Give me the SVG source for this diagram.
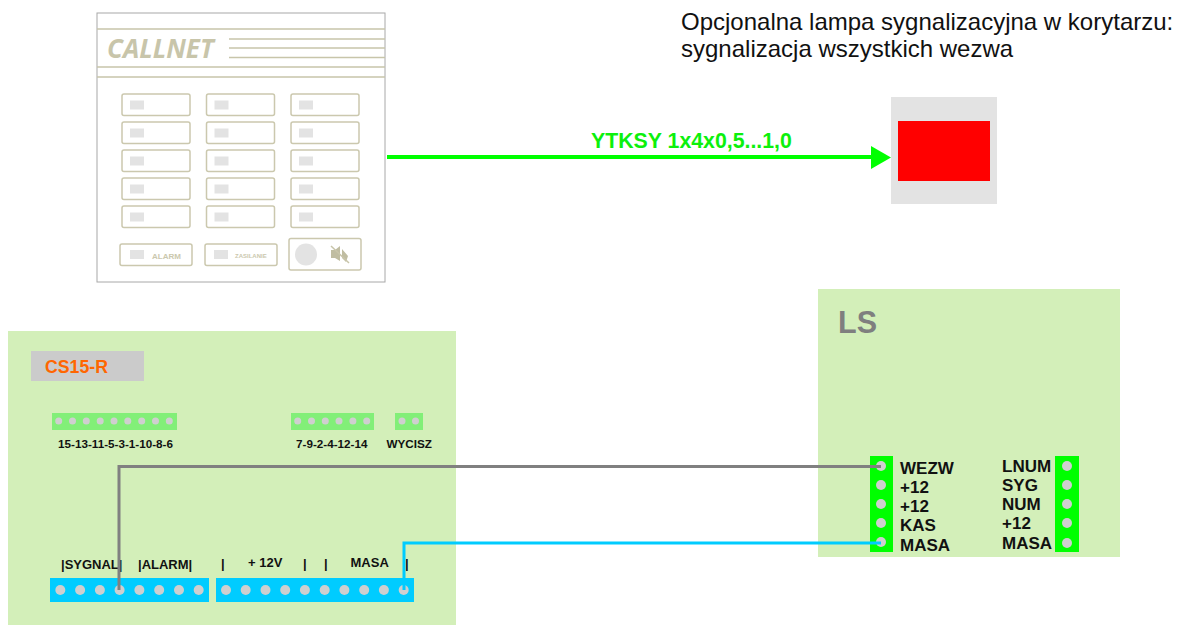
<svg xmlns="http://www.w3.org/2000/svg" width="1184" height="625" viewBox="0 0 1184 625">
<defs>
<style>
text{font-family:"Liberation Sans",Arial,sans-serif}
.b{font-weight:bold;fill:#111}
.s{font-size:11.700px}
.t{font-size:13px}
.m{font-size:17px}
.bn{fill:#fff;stroke:#cbc8ae;stroke-width:1.5}
.led{fill:#e3e3e3}
.ln{stroke:#c8c5aa;stroke-width:1.5;fill:none}
.d{fill:#cfcfcf}
.gs{fill:#82ef78}
.cs{fill:#00ccff}
.ts{fill:#00ff00}
.w{fill:none;stroke-width:3}
</style>
<symbol id="btn" overflow="visible"><rect class="bn" x="0" y="0" width="68" height="21.500" rx="2"/><rect class="led" x="8" y="6.500" width="14" height="9"/></symbol>
</defs>
<rect width="1184" height="625" fill="#fff"/>
<g id="callnet-panel">
<rect x="97" y="13" width="288" height="269" fill="#fff" stroke="#a8a8a8" stroke-width="1"/>
<path class="ln" d="M97 29H385M97 67H385M97 77H385M229 39H385M229 48H385M229 57.500H385"/>
<text x="107" y="57.500" font-size="26" font-weight="bold" font-style="italic" fill="#c8c5aa" style="font-family:'Open Sans','Liberation Sans',sans-serif">CALLNET</text>
<use href="#btn" x="122" y="94"/><use href="#btn" x="206.500" y="94"/><use href="#btn" x="291" y="94"/>
<use href="#btn" x="122" y="122"/><use href="#btn" x="206.500" y="122"/><use href="#btn" x="291" y="122"/>
<use href="#btn" x="122" y="150"/><use href="#btn" x="206.500" y="150"/><use href="#btn" x="291" y="150"/>
<use href="#btn" x="122" y="178"/><use href="#btn" x="206.500" y="178"/><use href="#btn" x="291" y="178"/>
<use href="#btn" x="122" y="206"/><use href="#btn" x="206.500" y="206"/><use href="#btn" x="291" y="206"/>
<rect class="bn" x="120" y="244" width="72" height="21.500" rx="2"/><rect class="led" x="130" y="250" width="14" height="9"/>
<text x="152" y="258.500" font-size="8" font-weight="bold" fill="#cbc8ae">ALARM</text>
<rect class="bn" x="205" y="244" width="72" height="21.500" rx="2"/><rect class="led" x="214" y="250" width="14" height="9"/>
<text x="235" y="257.500" font-size="6" font-weight="bold" fill="#cbc8ae">ZASILANIE</text>
<rect class="bn" x="289" y="238.500" width="72" height="31.500" rx="2"/>
<circle cx="306" cy="254.500" r="11" fill="#e3e3e3"/>
<path d="M331 250H335L340 246V261L335 258H331Z M342 249L348 256L346 262L342 258Z" fill="#c0bda2"/>
<path d="M331 246L349 263" stroke="#c8c5aa" stroke-width="1.500" fill="none"/>
</g>
<g id="lamp">
<rect x="891" y="97" width="106" height="107" fill="#e3e3e3"/>
<rect x="898" y="121" width="92" height="60" fill="#ff0000"/>
</g>
<g id="cs15-r">
<rect x="8" y="331" width="448" height="294" fill="#d3efb9"/>
<rect x="31" y="351" width="113" height="30" fill="#cbcbcb"/>
<text x="45" y="373" font-size="17.700" font-weight="bold" fill="#ff6600">CS15-R</text>
<rect class="gs" x="52" y="413" width="125" height="17"/>
<g class="d"><circle cx="58.700" cy="421" r="3.500"/><circle cx="72.500" cy="421" r="3.500"/><circle cx="86.300" cy="421" r="3.500"/><circle cx="100.200" cy="421" r="3.500"/><circle cx="114" cy="421" r="3.500"/><circle cx="127.800" cy="421" r="3.500"/><circle cx="141.700" cy="421" r="3.500"/><circle cx="155.500" cy="421" r="3.500"/><circle cx="169.300" cy="421" r="3.500"/></g>
<text class="b s" x="58" y="448">15-13-11-5-3-1-10-8-6</text>
<rect class="gs" x="291" y="413" width="83" height="17"/>
<g class="d"><circle cx="297.700" cy="421" r="3.500"/><circle cx="311.500" cy="421" r="3.500"/><circle cx="325.300" cy="421" r="3.500"/><circle cx="339" cy="421" r="3.500"/><circle cx="352.900" cy="421" r="3.500"/><circle cx="366.700" cy="421" r="3.500"/></g>
<text class="b s" x="296" y="448">7-9-2-4-12-14</text>
<rect class="gs" x="395" y="413" width="28" height="17"/>
<g class="d"><circle cx="402" cy="421" r="3.500"/><circle cx="415.500" cy="421" r="3.500"/></g>
<text class="b s" x="386.500" y="448">WYCISZ</text>
<rect class="cs" x="50" y="578" width="159" height="24"/>
<g class="d"><circle cx="60.300" cy="590" r="5"/><circle cx="80.100" cy="590" r="5"/><circle cx="99.900" cy="590" r="5"/><circle cx="119.600" cy="590" r="5"/><circle cx="139.400" cy="590" r="5"/><circle cx="159.200" cy="590" r="5"/><circle cx="179" cy="590" r="5"/><circle cx="198.700" cy="590" r="5"/></g>
<rect class="cs" x="216" y="578" width="198" height="24"/>
<g class="d"><circle cx="226" cy="590" r="5"/><circle cx="245.700" cy="590" r="5"/><circle cx="265.500" cy="590" r="5"/><circle cx="285.200" cy="590" r="5"/><circle cx="304.900" cy="590" r="5"/><circle cx="324.700" cy="590" r="5"/><circle cx="344.400" cy="590" r="5"/><circle cx="364.200" cy="590" r="5"/><circle cx="383.900" cy="590" r="5"/><circle cx="403.700" cy="590" r="5"/></g>
<text class="b t" x="61" y="569">|SYGNAL|</text>
<text class="b t" x="138" y="569">|ALARM|</text>
<text class="b t" x="221" y="568">|</text>
<text class="b t" x="248" y="567">+ 12V</text>
<text class="b t" x="303" y="568">|</text>
<text class="b t" x="324" y="568">|</text>
<text class="b t" x="350.500" y="567">MASA</text>
<text class="b t" x="405" y="568">|</text>
</g>
<g id="ls">
<rect x="818" y="289" width="302" height="268" fill="#d3efb9"/>
<text x="838" y="333" font-size="30.500" font-weight="bold" fill="#7f7f7f">LS</text>
<rect class="ts" x="870" y="456" width="23" height="96"/>
<g class="d"><circle cx="881" cy="466" r="5"/><circle cx="881" cy="485" r="5"/><circle cx="881" cy="504" r="5"/><circle cx="881" cy="523" r="5"/><circle cx="881" cy="542" r="5"/></g>
<rect class="ts" x="1055" y="456" width="24" height="96"/>
<g class="d"><circle cx="1067" cy="466" r="5"/><circle cx="1067" cy="485" r="5"/><circle cx="1067" cy="504" r="5"/><circle cx="1067" cy="523" r="5"/><circle cx="1067" cy="543" r="5"/></g>
<text class="b m" x="900" y="474">WEZW</text>
<text class="b m" x="900" y="493">+12</text>
<text class="b m" x="900" y="512">+12</text>
<text class="b m" x="900" y="531">KAS</text>
<text class="b m" x="900" y="550.500">MASA</text>
<text class="b m" x="1002" y="472">LNUM</text>
<text class="b m" x="1002" y="491">SYG</text>
<text class="b m" x="1002" y="510">NUM</text>
<text class="b m" x="1002" y="529">+12</text>
<text class="b m" x="1002" y="548.500">MASA</text>
</g>
<g id="connectors">
<path d="M387 157H873" fill="none" stroke="#00ff00" stroke-width="4"/>
<path d="M871 146L891 157.500L871 169Z" fill="#00ff00"/>
<path class="w" stroke="#808080" d="M119 590V466.500H881"/>
<path class="w" stroke="#00ccff" d="M404 590V543H881"/>
</g>
<text x="681" y="30" font-size="24" fill="#111">Opcjonalna lampa sygnalizacyjna w korytarzu:</text>
<text x="681" y="57" font-size="24" fill="#111">sygnalizacja wszystkich wezwa</text>
<text x="591" y="148" font-size="21.300" font-weight="bold" fill="#0cf00c">YTKSY 1x4x0,5...1,0</text>
</svg>
